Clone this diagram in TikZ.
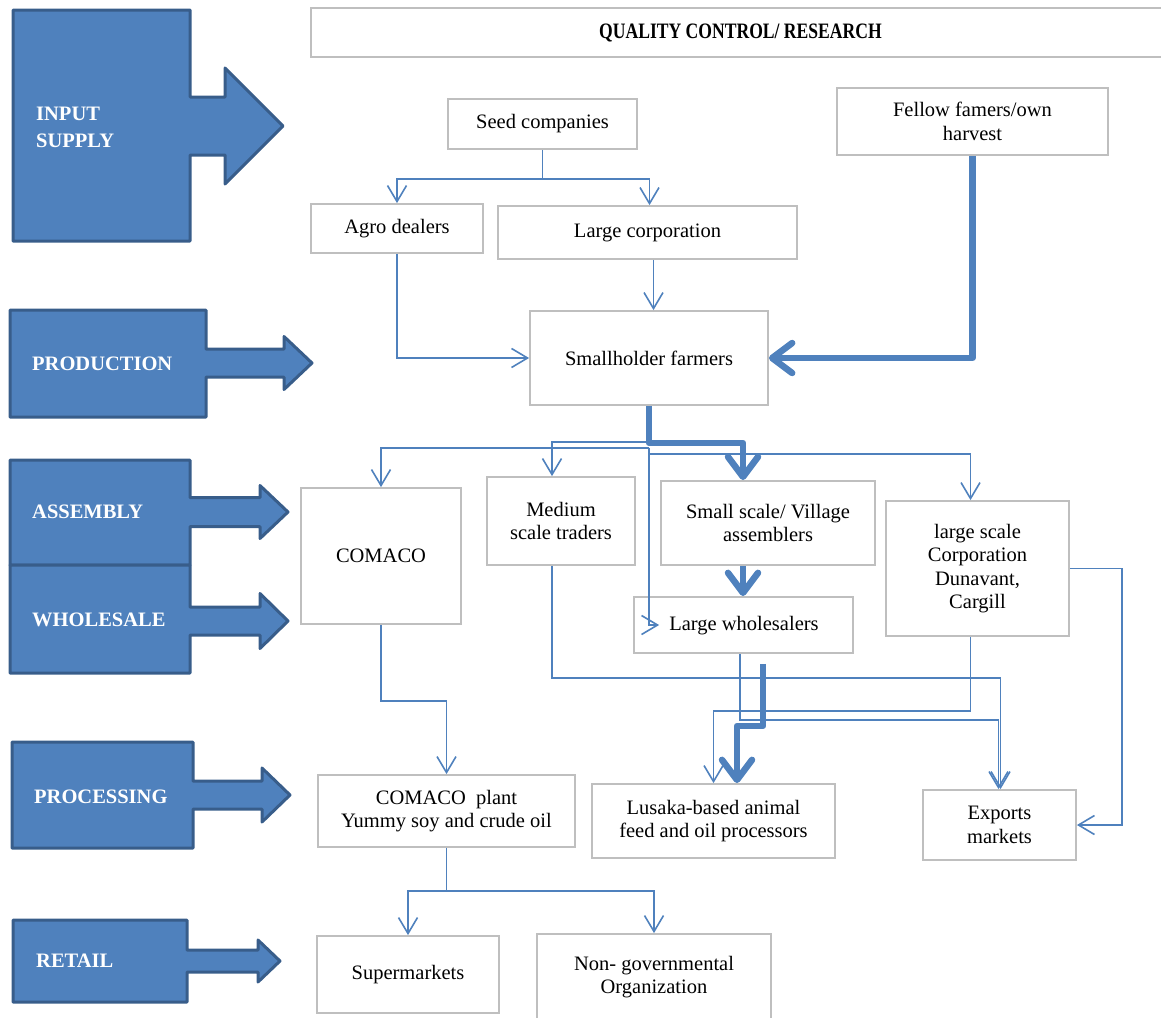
\documentclass[tikz,border=0pt]{standalone}
\usepackage{fontspec}
\setmainfont{Liberation Serif}
\newfontfamily\qcfont{Liberation Serif}[FakeStretch=0.8]
\usetikzlibrary{arrows.meta,calc}
\definecolor{stagefill}{HTML}{4F81BD}
\definecolor{stagedraw}{HTML}{385D8A}
\definecolor{conncol}{HTML}{4F81BD}
\definecolor{boxgray}{HTML}{BFBFBF}
\newcommand\stagearrow[9]{%
  \draw[stage] (#1,#2) -- (#3,#2) -- (#3,{#9-#5}) -- (#6,{#9-#5}) -- (#6,{#9-#7}) -- (#8,#9)
    -- (#6,{#9+#7}) -- (#6,{#9+#5}) -- (#3,{#9+#5}) -- (#3,#4) -- (#1,#4) -- cycle;}
\begin{document}
\begin{tikzpicture}[x=1pt,y=-1pt,
 box/.style={draw=boxgray,line width=1.8pt,fill=white,align=center,inner sep=0pt,font=\fontsize{20.5}{23.5}\selectfont},
 conn/.style={draw=conncol,line width=1.6pt},
 tipthin/.style={-{Straight Barb[length=16pt,width=19pt]}},
 thickconn/.style={draw=conncol,line width=6.5pt,line join=round,-{Straight Barb[length=20pt,width=30pt,round]}},
 stage/.style={fill=stagefill,draw=stagedraw,line width=3pt,line join=round},
 stagelbl/.style={text=white,font=\fontsize{20.5}{27}\selectfont\bfseries,anchor=west,align=left,inner sep=0pt},
]
\useasboundingbox (0,0) rectangle (1161,1017);

% stage arrows
\stagearrow{13}{10}{190}{241}{29}{225}{58}{283}{126}
\stagearrow{10}{310}{206}{417}{14}{284}{26.5}{312}{363}
\stagearrow{10}{460}{190}{565}{14.5}{260}{26.5}{288}{512}
\stagearrow{10}{565}{190}{673}{14}{260}{27.5}{288}{621}
\stagearrow{12}{742}{193}{848}{14}{262}{27}{290}{795}
\stagearrow{13}{920}{187}{1002}{11}{258}{21}{280}{961}
\node[stagelbl] (lblinput) at (36,127) {INPUT\\SUPPLY};
\node[stagelbl] (lblprod) at (32,364) {PRODUCTION};
\node[stagelbl] (lblasm) at (32,512) {ASSEMBLY};
\node[stagelbl] (lblwhole) at (32,620) {WHOLESALE};
\node[stagelbl] (lblproc) at (34,797) {PROCESSING};
\node[stagelbl] (lblretail) at (36,961) {RETAIL};

% boxes
\node[box,minimum width=859pt,minimum height=49pt,font=\qcfont\fontsize{22}{24}\selectfont\bfseries] (qc) at (740.5,32.5) {QUALITY CONTROL/ RESEARCH};
\node[box,minimum width=189pt,minimum height=50pt] (seed) at (542.5,124) {Seed companies};
\node[box,minimum width=271pt,minimum height=67pt] (fellow) at (972.5,121.5) {Fellow famers/own\\harvest};
\node[box,minimum width=172pt,minimum height=49pt] (agro) at (397,228.5) {Agro dealers};
\node[box,minimum width=299pt,minimum height=53pt] (largecorp) at (647.5,232.5) {Large corporation};
\node[box,minimum width=238pt,minimum height=94pt] (small) at (649,358) {Smallholder farmers};
\node[box,minimum width=160pt,minimum height=136pt] (comaco) at (381,556) {COMACO};
\node[box,minimum width=148pt,minimum height=88pt] (medium) at (561,521) {Medium\\scale traders};
\node[box,minimum width=214pt,minimum height=84pt] (village) at (768,523) {Small scale/ Village\\assemblers};
\node[box,minimum width=219pt,minimum height=56pt] (lwhole) at (743.5,625) {};
\node[font=\fontsize{20.5}{23.5}\selectfont,inner sep=0pt] (lwholetxt) at (744,626) {Large wholesalers};
\node[box,minimum width=183pt,minimum height=135pt] (lscale) at (977.5,568.5) {large scale\\Corporation\\Dunavant,\\Cargill};
\node[box,minimum width=257pt,minimum height=72pt] (plant) at (446.5,811) {COMACO\ \ plant\\Yummy soy and crude oil};
\node[box,minimum width=243pt,minimum height=74pt] (lusaka) at (713.5,821) {Lusaka-based animal\\feed and oil processors};
\node[box,minimum width=153pt,minimum height=70pt] (exports) at (999.5,825) {Exports\\markets};
\node[box,minimum width=182pt,minimum height=77pt] (super) at (408,974.5) {Supermarkets};
\node[box,minimum width=234pt,minimum height=86pt] (ngo) at (654,977) {Non- governmental\\Organization};

% connectors: input supply
\draw[conn] (seed.south) -- ++(0,29) coordinate (sj);
\draw[conn,tipthin] (sj) -| (agro.north);
\draw[conn,tipthin] (sj) -| ([xshift=2pt]largecorp.north);
\draw[conn,tipthin] ([xshift=6pt]largecorp.south) -- ([xshift=6pt]largecorp.south |- small.north);
\draw[conn,tipthin] (agro.south) |- (small.west);
\draw[thickconn] (fellow.south) |- (small.east);

% from smallholders
\draw[conn,tipthin] ([yshift=-42pt]small.south) -| (comaco.north);
\draw[conn,tipthin] ([yshift=-36pt]small.south) -| ([xshift=-9pt]medium.north);
\draw[conn,tipthin] ([yshift=-48pt]small.south) -| ([xshift=-7pt]lscale.north);
\draw[conn,tipthin] ([yshift=-42pt]small.south) |- ([xshift=26pt]lwhole.west);
\draw[thickconn] (small.south) -- ++(0,37) -| ([xshift=-25pt]village.north);
\draw[thickconn] ([xshift=-25pt]village.south) -- ([xshift=-25pt]village.south |- lwhole.north);

% to processors / exports
\draw[conn,tipthin] ([xshift=-9pt]medium.south) -- ++(0,112) -| ([xshift=1pt]exports.north);
\draw[conn,tipthin] ([xshift=-3.5pt]lwhole.south) -- ++(0,66) -| ([xshift=-1pt]exports.north);
\draw[thickconn] ([xshift=19.5pt,yshift=-10pt]lwhole.south) -- ++(0,62) -| ([xshift=23.5pt]lusaka.north);
\draw[conn,tipthin] ([xshift=-7pt]lscale.south) -- ++(0,74) -| (lusaka.north);
\draw[conn,tipthin] (lscale.east) -- ++(52,0) |- (exports.east);

% COMACO chain
\draw[conn,tipthin] (comaco.south) -- ++(0,76) -| (plant.north);
\draw[conn] (plant.south) -- ++(0,43) coordinate (pj);
\draw[conn,tipthin] (pj) -| (super.north);
\draw[conn,tipthin] (pj) -| (ngo.north);
\end{tikzpicture}
\end{document}
